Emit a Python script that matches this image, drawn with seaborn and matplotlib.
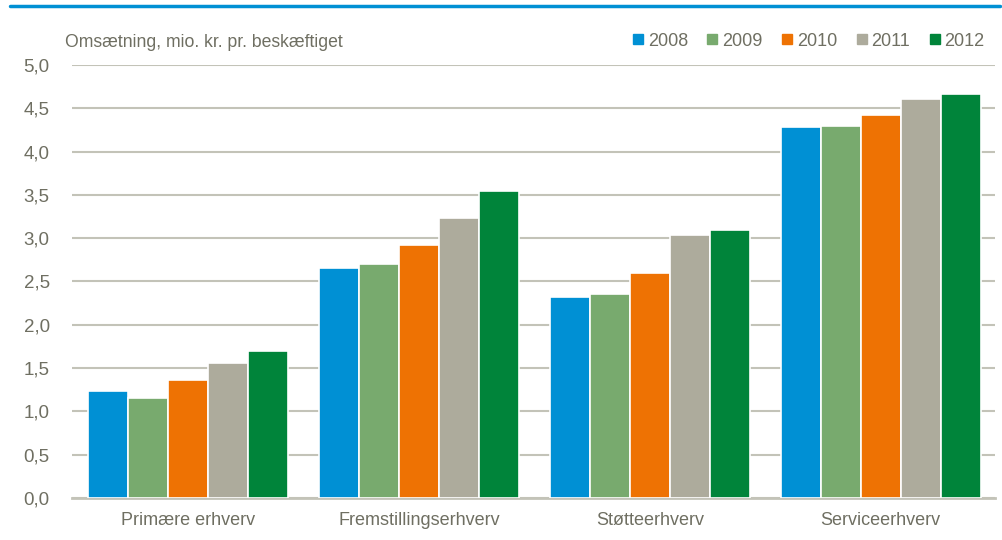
import pandas as pd
import numpy as np
import seaborn as sns
import matplotlib.pyplot as plt
from matplotlib.ticker import FuncFormatter, MultipleLocator
from matplotlib.lines import Line2D

# data
erhverv = ['Primære erhverv', 'Fremstillingserhverv', 'Støtteerhverv', 'Serviceerhverv']
aar = ['2008', '2009', '2010', '2011', '2012']
v2008 = [1.23, 2.66, 2.32, 4.28]
v2009 = [1.15, 2.70, 2.36, 4.30]
v2010 = [1.36, 2.92, 2.60, 4.42]
v2011 = [1.56, 3.23, 3.04, 4.61]
v2012 = [1.70, 3.55, 3.09, 4.67]
farver = ['#0090d4', '#78aa6e', '#ee7203', '#adab9c', '#00843a']

rows = []
for a, vals in zip(aar, [v2008, v2009, v2010, v2011, v2012]):
    for e, v in zip(erhverv, vals):
        rows.append({'erhverv': e, 'aar': a, 'vaerdi': v})
df = pd.DataFrame(rows)

sns.set_theme(style='white')
plt.rcParams['font.family'] = ['Liberation Sans', 'DejaVu Sans']
tekst = '#6f6f62'
grid = '#c3c3b8'

fig = plt.figure(figsize=(10.03, 5.40), dpi=100)
ax = fig.add_axes([0.0718, 0.0778, 0.92, 0.8019])

sns.barplot(data=df, x='erhverv', y='vaerdi', hue='aar', palette=farver,
            saturation=1, width=0.866, edgecolor='white', linewidth=1.2,
            ax=ax, legend=False, zorder=3)

ax.set_ylim(0, 5.0)
ax.set_xlim(-0.502, 3.494)
ax.yaxis.set_major_locator(MultipleLocator(0.5))
ax.yaxis.set_major_formatter(FuncFormatter(lambda v, p: ('%.1f' % v).replace('.', ',')))
ax.grid(axis='y', color=grid, linewidth=1.5, zorder=0)
ax.set_axisbelow(True)
for s in ['top', 'right', 'left']:
    ax.spines[s].set_visible(False)
ax.spines['bottom'].set_color(grid)
ax.spines['bottom'].set_linewidth(2)
ax.set_xlabel('')
ax.set_ylabel('')
ax.tick_params(axis='y', length=0, pad=16, labelsize=13.5, labelcolor=tekst)
ax.tick_params(axis='x', length=0, pad=10, labelsize=13, labelcolor=tekst)

fig.text(0.065, 0.922, 'Omsætning, mio. kr. pr. beskæftiget', fontsize=12.7,
         color=tekst, ha='left', va='center')

handles = [Line2D([], [], marker='s', linestyle='', markersize=6.5,
                  markerfacecolor=c, markeredgecolor=c) for c in farver]
fig.legend(handles, aar, loc='center right', bbox_to_anchor=(0.998, 0.924),
           ncol=5, frameon=False, fontsize=13, labelcolor=tekst,
           handletextpad=0.25, columnspacing=1.05, handlelength=0.6)

# blue line at the top
fig.add_artist(Line2D([0.01, 0.997], [0.989, 0.989], color='#0090d4', linewidth=2.5))

fig.savefig('out.png', dpi=100)
